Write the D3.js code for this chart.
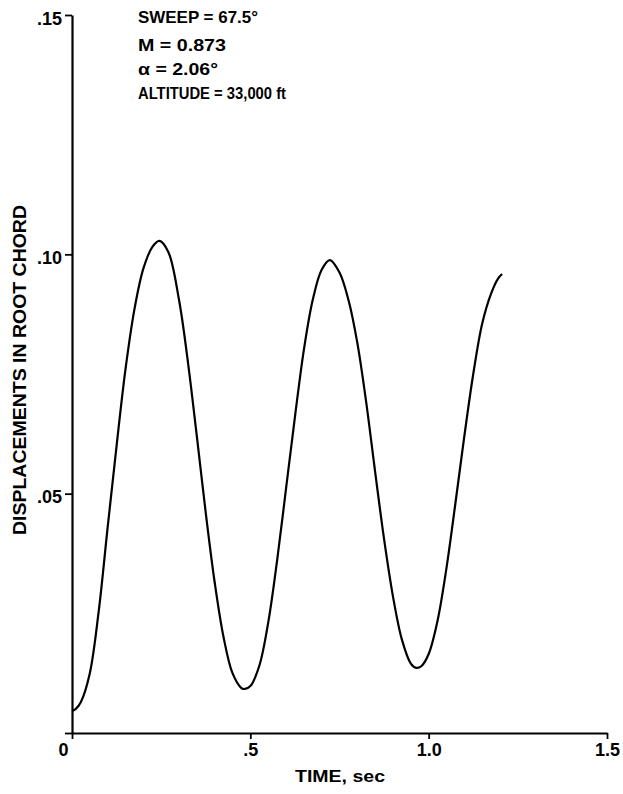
<!DOCTYPE html>
<html>
<head>
<meta charset="utf-8">
<script src="https://cdn.jsdelivr.net/npm/d3@7"></script>
<style>
  html, body { margin: 0; padding: 0; background: #fff; }
  svg { display: block; }
  text { font-family: "Liberation Sans", Arial, Helvetica, sans-serif; font-weight: bold; fill: #000; }
</style>
</head>
<body>
<svg id="chart" width="623" height="794"></svg>
<script>
// ---- data ----
const timeSec = [0, 0.01, 0.025, 0.05, 0.075, 0.1, 0.125, 0.15, 0.175, 0.2, 0.225, 0.245,
  0.27, 0.3, 0.325, 0.35, 0.375, 0.4, 0.425, 0.45, 0.475, 0.485, 0.5, 0.525, 0.55, 0.575,
  0.6, 0.625, 0.65, 0.675, 0.7, 0.723, 0.75, 0.775, 0.8, 0.825, 0.85, 0.875, 0.9, 0.925,
  0.95, 0.965, 0.98, 1.0, 1.025, 1.05, 1.075, 1.1, 1.125, 1.15, 1.175, 1.195, 1.206];
const displacement = [0.0046, 0.0050, 0.0065, 0.0125, 0.0255, 0.0430, 0.0600, 0.0760, 0.0885, 0.0970, 0.1015, 0.1028,
  0.1005, 0.0905, 0.0775, 0.0620, 0.0460, 0.0315, 0.0200, 0.0125, 0.0094, 0.0092, 0.0098, 0.0140, 0.0230, 0.0360,
  0.0510, 0.0660, 0.0800, 0.0905, 0.0968, 0.0988, 0.0962, 0.0905, 0.0815, 0.0690, 0.0545, 0.0405, 0.0285, 0.0195,
  0.0145, 0.0136, 0.0140, 0.0165, 0.0235, 0.0345, 0.0480, 0.0620, 0.0750, 0.0855, 0.0918, 0.0950, 0.0959];
const xTicks = [0, 0.5, 1.0, 1.5];
const xTickLabels = ["0", ".5", "1.0", "1.5"];
const yTicks = [0, 0.05, 0.10, 0.15];
const yTickLabels = ["", ".05", ".10", ".15"];
const annotations = ["SWEEP = 67.5°", "M = 0.873", "α  = 2.06°", "ALTITUDE = 33,000 ft"];
const xTitle = "TIME, sec";
const yTitle = "DISPLACEMENTS IN ROOT CHORD";

// ---- layout ----
const FONT = "'Liberation Sans', Arial, Helvetica, sans-serif";
const svg = d3.select("#chart");
const x = d3.scaleLinear().domain([0, 1.5]).range([72, 607]);
const y = d3.scaleLinear().domain([0, 0.15]).range([733, 15]);

// x axis
const gx = svg.append("g").attr("transform", `translate(0,${y(0)})`)
  .call(d3.axisBottom(x).tickValues(xTicks).tickSize(6).tickSizeOuter(0)
    .tickFormat((d, i) => xTickLabels[i]));
gx.attr("font-family", FONT).attr("font-size", 18).attr("font-weight", "bold");
gx.select(".domain").attr("stroke-width", 2.2).attr("stroke", "#000");
gx.selectAll(".tick line").attr("stroke-width", 1.8).attr("stroke", "#000");
gx.selectAll(".tick text").attr("y", 23).attr("dy", 0)
  .style("font-size", "18px").style("font-weight", "700")
  .attr("dx", (d) => d === 0 ? -9 : 0);

// y axis
const gy = svg.append("g").attr("transform", `translate(${x(0)},0)`)
  .call(d3.axisLeft(y).tickValues(yTicks).tickSize(7).tickSizeOuter(0)
    .tickFormat((d, i) => yTickLabels[i]));
gy.attr("font-family", FONT).attr("font-size", 18).attr("font-weight", "bold");
gy.select(".domain").attr("stroke-width", 2.2).attr("stroke", "#000");
gy.selectAll(".tick line").attr("stroke-width", 1.8).attr("stroke", "#000");
gy.selectAll(".tick text").attr("x", -10).attr("dy", "0.5em")
  .style("font-size", "18px").style("font-weight", "700");

// curve
const pts = timeSec.map((t, i) => [t, displacement[i]]);
svg.append("path")
  .datum(pts)
  .attr("fill", "none")
  .attr("stroke", "#000")
  .attr("stroke-width", 2.2)
  .attr("d", d3.line().x(d => x(d[0])).y(d => y(d[1])).curve(d3.curveCatmullRom.alpha(0.5)));

// annotations
const annBase = [23, 51, 75, 99];
const annLen = [120, 88, 80, 148];
svg.selectAll("text.ann").data(annotations).enter().append("text")
  .attr("class", "ann")
  .attr("x", 138)
  .attr("y", (d, i) => annBase[i])
  .attr("textLength", (d, i) => annLen[i])
  .attr("lengthAdjust", "spacingAndGlyphs")
  .style("font-size", "16.5px")
  .text(d => d);

// axis titles
svg.append("text")
  .attr("x", 340).attr("y", 782)
  .attr("text-anchor", "middle")
  .attr("textLength", 90).attr("lengthAdjust", "spacingAndGlyphs")
  .style("font-size", "16px")
  .text(xTitle);

svg.append("text")
  .attr("transform", "translate(26,370) rotate(-90)")
  .attr("text-anchor", "middle")
  .attr("textLength", 330).attr("lengthAdjust", "spacingAndGlyphs")
  .style("font-size", "19px")
  .text(yTitle);
</script>
</body>
</html>
